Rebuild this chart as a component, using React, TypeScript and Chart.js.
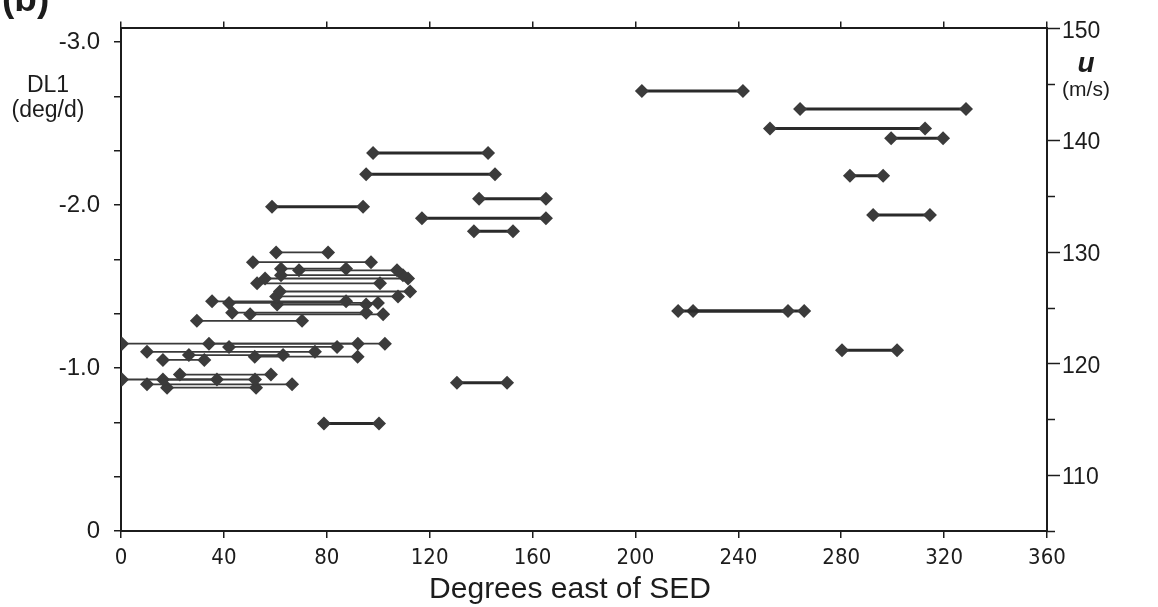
import React, { useEffect, useRef } from 'react';
import { Chart, registerables } from 'chart.js';

Chart.register(...registerables);

// ---- Data ----
// Isolated segments (bold lines): DL1 value, start / end (degrees east of SED)
const boldDL1 = [-2.70, -2.59, -2.47, -2.41, -2.18, -1.94, -1.35, -1.35, -1.11, -2.32, -2.19, -2.04, -1.92, -1.84, -1.99, -0.91, -0.66];
const boldStart = [202.5, 264.0, 252.3, 299.4, 283.4, 292.4, 216.6, 222.4, 280.3, 98.0, 95.3, 139.2, 117.0, 137.2, 58.7, 130.6, 78.9];
const boldEnd = [241.8, 328.5, 312.6, 319.6, 296.3, 314.5, 259.3, 265.6, 301.7, 142.7, 145.4, 165.2, 165.2, 152.4, 94.1, 150.1, 100.3];

// Dense cluster (fine lines)
const fineDL1 = [-1.71, -1.65, -1.61, -1.60, -1.57, -1.55, -1.52, -1.47, -1.44, -1.41, -1.40, -1.39, -1.34, -1.33, -1.29, -1.15, -1.15, -1.13, -1.10, -1.08, -1.07, -1.05, -0.96, -0.93, -0.93, -0.90, -0.88];
const fineStart = [60.3, 51.3, 62.2, 69.2, 62.2, 56.0, 52.9, 61.8, 60.3, 35.4, 42.0, 60.7, 43.2, 50.2, 29.5, 0.4, 34.2, 42.0, 10.1, 26.4, 52.0, 16.3, 22.9, 0.4, 16.3, 10.1, 17.9];
const fineEnd = [80.5, 97.2, 87.5, 107.3, 109.6, 111.6, 100.7, 112.4, 107.7, 87.5, 99.9, 95.3, 95.3, 101.9, 70.4, 102.6, 92.1, 84.0, 75.4, 63.0, 92.0, 32.4, 58.3, 52.1, 37.3, 66.5, 52.5];

// Axes
const xTicks = [0, 40, 80, 120, 160, 200, 240, 280, 320, 360];
const dl1Major = [0, -1, -2, -3];
const dl1MajorLabels = ['0', '-1.0', '-2.0', '-3.0'];
const dl1MinorPerMajor = 3;
const dl1Min = -3.085;
const uMin = 105;
const uMax = 150;
const uTicks = [105, 110, 115, 120, 125, 130, 135, 140, 145, 150];
const uMajor = [110, 120, 130, 140, 150];

const W = 1158;
const H = 607;
const FONT = '"Liberation Sans", Arial, Helvetica, sans-serif';
const NARROW = '"Liberation Sans Narrow", "Arial Narrow", "DejaVu Sans Condensed", sans-serif';
const INK = '#1c1c1c';

const extraPlugin = {
  id: 'extraText',
  afterDraw(chart: any) {
    const ctx = chart.ctx as CanvasRenderingContext2D;
    const y2 = chart.scales.y2;
    const area = chart.chartArea;
    ctx.save();
    // right axis ticks (major longer)
    ctx.strokeStyle = INK;
    ctx.lineWidth = 1.5;
    uTicks.forEach((v) => {
      const py = Math.round(y2.getPixelForValue(v)) + 0.5;
      const len = uMajor.includes(v) ? 13 : 8;
      ctx.beginPath();
      ctx.moveTo(area.right, py);
      ctx.lineTo(area.right + len, py);
      ctx.stroke();
    });
    ctx.fillStyle = INK;
    ctx.textBaseline = 'middle';
    ctx.textAlign = 'left';
    ctx.font = `23px ${FONT}`;
    uMajor.forEach((v) => {
      const py = y2.getPixelForValue(v);
      ctx.fillText(String(v), area.right + 15, py + 3);
    });
    ctx.textAlign = 'center';
    ctx.font = `23px ${FONT}`;
    ctx.fillText('DL1', 48, 86);
    ctx.fillText('(deg/d)', 48, 111);
    ctx.font = `italic bold 28px ${FONT}`;
    ctx.fillText('u', 1086, 64);
    ctx.font = `21px ${FONT}`;
    ctx.fillText('(m/s)', 1086, 90);
    ctx.font = `30px ${FONT}`;
    ctx.fillText('Degrees east of SED', 570, 590);
    ctx.textAlign = 'left';
    ctx.textBaseline = 'alphabetic';
    ctx.font = `bold 37px ${FONT}`;
    ctx.fillText('(b)', 2, 11);
    ctx.restore();
  },
};

export default function App() {
  const ref = useRef<HTMLCanvasElement>(null);

  useEffect(() => {
    if (!ref.current) return;
    const datasets: any[] = [];
    const mk = (s: number, e: number, v: number, lw: number, col: string) => ({
      data: [
        { x: s, y: v },
        { x: e, y: v },
      ],
      showLine: true,
      borderColor: col,
      borderWidth: lw,
      pointStyle: 'rectRot',
      pointRadius: 7,
      pointHoverRadius: 7,
      pointBackgroundColor: '#3b3b3b',
      pointBorderColor: '#3b3b3b',
      pointBorderWidth: 0,
      xAxisID: 'x',
      yAxisID: 'y',
    });
    fineStart.forEach((s, i) => datasets.push(mk(s, fineEnd[i], fineDL1[i], 1.8, '#3a3a3a')));
    boldStart.forEach((s, i) => datasets.push(mk(s, boldEnd[i], boldDL1[i], 3, '#2a2a2a')));

    const dl1Ticks: number[] = [];
    for (let m = 0; m < dl1Major.length; m++) {
      dl1Ticks.push(dl1Major[m]);
      if (m < dl1Major.length - 1) {
        for (let k = 1; k < dl1MinorPerMajor; k++) {
          dl1Ticks.push(dl1Major[m] + ((dl1Major[m + 1] - dl1Major[m]) * k) / dl1MinorPerMajor);
        }
      }
    }

    const axisGrid = { drawOnChartArea: false, drawTicks: true, tickLength: 7, color: INK, lineWidth: 1.5 };
    const axisBorder = { display: true, color: INK, width: 2 };

    const chart = new Chart(ref.current, {
      type: 'scatter',
      data: { datasets },
      plugins: [extraPlugin],
      options: {
        responsive: false,
        animation: false,
        devicePixelRatio: 1,
        layout: { padding: 0 },
        plugins: { legend: { display: false }, tooltip: { enabled: false } },
        scales: {
          x: {
            type: 'linear',
            position: 'bottom',
            min: 0,
            max: 360,
            afterBuildTicks: (s: any) => {
              s.ticks = xTicks.map((v) => ({ value: v }));
            },
            afterFit: (s: any) => {
              s.height = H - 531;
            },
            ticks: { font: { family: NARROW, size: 22 }, color: INK, padding: 7, maxRotation: 0, autoSkip: false },
            grid: axisGrid,
            border: axisBorder,
          },
          x2: {
            type: 'linear',
            position: 'top',
            min: 0,
            max: 360,
            afterBuildTicks: (s: any) => {
              s.ticks = xTicks.map((v) => ({ value: v }));
            },
            afterFit: (s: any) => {
              s.height = 22;
            },
            ticks: { display: false },
            grid: axisGrid,
            border: axisBorder,
          },
          y: {
            type: 'linear',
            position: 'left',
            min: dl1Min,
            max: 0,
            reverse: true,
            afterBuildTicks: (s: any) => {
              s.ticks = dl1Ticks.map((v) => ({ value: v }));
            },
            afterFit: (s: any) => {
              s.width = 121;
            },
            ticks: {
              font: { family: FONT, size: 24 },
              color: INK,
              padding: 14,
              autoSkip: false,
              callback: (v: any) => {
                const idx = dl1Major.findIndex((m) => Math.abs(m - Number(v)) < 1e-6);
                return idx >= 0 ? dl1MajorLabels[idx] : '';
              },
            },
            grid: axisGrid,
            border: axisBorder,
          },
          y2: {
            type: 'linear',
            position: 'right',
            min: uMin,
            max: uMax,
            afterBuildTicks: (s: any) => {
              s.ticks = uTicks.map((v) => ({ value: v }));
            },
            afterFit: (s: any) => {
              s.width = W - 1047;
            },
            ticks: { display: false },
            grid: { display: false },
            border: axisBorder,
          },
        },
      },
    } as any);
    return () => chart.destroy();
  }, []);

  return (
    <div style={{ position: 'absolute', left: 0, top: 0, width: W, height: H, background: '#fff' }}>
      <canvas ref={ref} width={W} height={H} style={{ width: W, height: H, display: 'block' }} />
    </div>
  );
}
